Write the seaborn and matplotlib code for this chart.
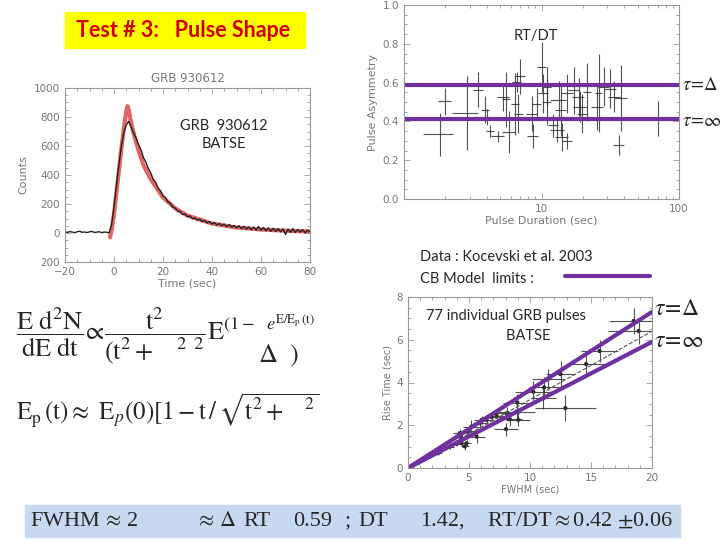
import numpy as np
import pandas as pd
import seaborn as sns
import matplotlib.pyplot as plt

# light curve GRB 930612 (1 s bins)
lc_time = list(range(-20, 81))
lc_counts = [8, 4, 10, 6, 2, 9, 12, 5, 7, 3, 8, 11, 4, 6, 9, 2, 7, 5, 1, 55,
             180, 330, 470, 600, 690, 745, 770, 730, 690, 655, 610, 575, 520, 490, 445, 415,
             370, 350, 310, 290, 255, 245, 215, 205, 178, 172, 150, 148, 128, 130, 112,
             118, 98, 104, 88, 95, 80, 86, 70, 78, 62, 72, 55, 66, 50, 61, 44, 58, 40,
             52, 35, 50, 30, 46, 28, 42, 22, 40, 20, 45, 18, 38, 15, 35, 12, 33, 10, 30,
             8, 28, -10, 26, 5, 30, 3, 24, 6, 22, 2, 20, 8]
model_time = [-1.6, -1, 0, 1, 2, 3, 4, 5, 5.5, 6, 7, 8, 10, 12, 15, 20, 25, 30, 40, 50, 60, 70, 80]
model_counts = [-30, 20, 130, 280, 430, 580, 720, 840, 875, 850, 760, 690, 570, 470, 370,
                245, 170, 120, 65, 38, 24, 16, 10]
lc_yticks = [-200, 0, 200, 400, 600, 800, 1000]
lc_yticklabels = ["200", "0", "200", "400", "600", "800", "1000"]

# pulse asymmetry vs pulse duration (Kocevski et al. 2003)
dur = [1.98, 1.82, 2.85, 3.46, 3.9, 4.0, 4.24, 4.8, 5.55, 5.77, 6.45, 6.64, 7.0, 6.8,
       8.7, 8.55, 9.2, 10.0, 10.3, 11.0, 10.9, 12.2, 13.0, 13.8, 14.1, 15.3, 13.3, 15.4,
       17.1, 18.6, 19.2, 19.8, 21.6, 25.5, 26.0, 28.3, 33.7, 31.7, 37.6, 36.5, 70.8, 5.28]
asym = [0.503, 0.334, 0.443, 0.564, 0.461, 0.423, 0.349, 0.323, 0.513, 0.345, 0.49,
        0.604, 0.633, 0.44, 0.325, 0.44, 0.49, 0.68, 0.544, 0.578, 0.5, 0.38, 0.354,
        0.457, 0.32, 0.30, 0.51, 0.545, 0.56, 0.526, 0.475, 0.44, 0.55, 0.475, 0.545,
        0.578, 0.526, 0.569, 0.52, 0.278, 0.417, 0.525]
dur_err = [0.2, 0.45, 0.6, 0.3, 0.25, 0.3, 0.3, 0.5, 0.4, 0.6, 0.4, 0.5, 0.6, 0.5,
           0.8, 0.8, 0.7, 0.8, 0.9, 0.8, 0.9, 1.0, 1.5, 1.2, 1.6, 1.3, 1.8, 1.5,
           1.6, 1.8, 2.2, 1.8, 1.5, 2.5, 1.5, 2.5, 3.5, 3.0, 4.0, 3.5, 6.0, 0.5]
asym_err = [0.07, 0.11, 0.19, 0.09, 0.07, 0.04, 0.03, 0.03, 0.14, 0.11, 0.16, 0.05,
            0.09, 0.1, 0.06, 0.09, 0.08, 0.13, 0.1, 0.1, 0.12, 0.06, 0.06, 0.13, 0.07,
            0.04, 0.1, 0.1, 0.12, 0.1, 0.08, 0.1, 0.15, 0.12, 0.2, 0.1, 0.08, 0.1,
            0.17, 0.05, 0.09, 0.07]
cb_asym = {"tau_delta": 0.59, "tau_inf": 0.41}

# rise time vs FWHM, 77 individual BATSE pulses
fwhm = [18.5, 18.9, 15.7, 14.6, 12.5, 11.45, 11.15, 10.27, 11.1, 12.9, 8.96, 8.9, 9.04,
        8.36, 8.03, 8.08, 7.26, 6.85, 6.44, 6.03, 5.62, 4.93, 4.8, 4.66, 4.39, 4.39,
        4.25, 3.98, 3.43, 3.02, 2.47, 1.78, 1.23, 0.82, 0.41, 5.2, 5.9]
rise = [6.88, 6.41, 5.47, 4.86, 4.39, 4.15, 3.77, 3.57, 3.26, 2.8, 3.06, 2.64, 2.25,
        2.28, 1.82, 2.56, 2.44, 2.38, 2.25, 2.25, 1.47, 1.71, 1.16, 1.01, 1.4, 1.16,
        1.63, 1.13, 1.0, 0.93, 0.7, 0.54, 0.39, 0.23, 0.11, 1.94, 2.1]
fwhm_err = [2.0, 2.5, 1.5, 1.5, 1.2, 1.3, 1.2, 1.5, 1.0, 2.5, 1.2, 1.5, 1.0, 1.0, 1.0,
            1.0, 0.8, 0.8, 0.6, 0.6, 0.7, 0.6, 0.4, 0.3, 0.3, 0.4, 0.6, 0.3, 0.3, 0.3,
            0.3, 0.2, 0.2, 0.2, 0.1, 0.7, 0.6]
rise_err = [0.6, 0.6, 0.5, 0.5, 0.6, 0.5, 0.5, 0.5, 0.5, 0.6, 0.4, 0.4, 0.3, 0.3, 0.3,
            0.3, 0.3, 0.2, 0.2, 0.2, 0.3, 0.2, 0.15, 0.15, 0.2, 0.2, 0.2, 0.1, 0.1, 0.1,
            0.1, 0.08, 0.06, 0.05, 0.04, 0.3, 0.2]
cb_fwhm = [0, 20]
cb_rise_delta = [0, 7.3]
cb_rise_inf = [0, 5.9]
fit_rise = [0, 6.4]

# pieces of the bottom summary line
band_parts = [r"FWHM$\,\approx\,$2", r"$\approx\,\Delta$", "RT", "0.59", ";", "DT",
              "1.42,", r"RT/DT$\approx$0.42 $\pm$0.06"]
band_x = [30, 195, 243, 293, 345, 358, 420, 487]

PURPLE = "#7030A0"
GREY = "#777777"

sns.set_theme(style="ticks")
plt.rcParams["font.family"] = ["DejaVu Sans"]
plt.rcParams["mathtext.fontset"] = "stix"

fig = plt.figure(figsize=(7.2, 5.4), dpi=100)
W, H = 720.0, 540.0


def fx(x):
    return x / W


def fy(y):
    return 1 - y / H


def old_axes(ax):
    # IDL style: thin grey frame, inward ticks, grey labels
    for s in ax.spines.values():
        s.set_color("#999999")
        s.set_linewidth(0.8)
    ax.tick_params(direction="in", which="both", colors="#999999", labelcolor=GREY,
                   labelsize=7.5, top=True, right=True, length=4, width=0.6)
    ax.tick_params(which="minor", length=2)
    ax.minorticks_on()


# title box
fig.add_artist(plt.Rectangle((fx(65), fy(48)), 240 / W, 36 / H, color="#FFFF00",
                             transform=fig.transFigure, zorder=0))
fig.text(fx(183), fy(31), "Test # 3:   Pulse Shape", ha="center", va="center",
         fontsize=15.5, fontweight="bold", color="#D00000", family=["Lato", "DejaVu Sans"])

# --- light curve
ax1 = fig.add_axes([fx(65), fy(262), (310 - 65) / W, (262 - 88) / H])
lc = pd.DataFrame({"t": lc_time, "c": lc_counts})
md = pd.DataFrame({"t": model_time, "c": model_counts})
sns.lineplot(data=md, x="t", y="c", ax=ax1, color="#E04848", lw=3, alpha=0.85)
sns.lineplot(data=lc, x="t", y="c", ax=ax1, color="#222222", lw=1.0)
ax1.set_xlim(-20, 80)
ax1.set_ylim(-200, 1000)
ax1.set_yticks(lc_yticks)
ax1.set_yticklabels(lc_yticklabels)
ax1.set_xticks([-20, 0, 20, 40, 60, 80])
ax1.set_xlabel("Time (sec)", fontsize=8, color=GREY, labelpad=1)
ax1.set_ylabel("Counts", fontsize=8, color=GREY, labelpad=4)
ax1.set_title("GRB 930612", fontsize=8.5, color=GREY, pad=4)
old_axes(ax1)
ax1.text(0.65, 0.73, "GRB  930612\nBATSE", transform=ax1.transAxes, ha="center",
         va="center", fontsize=10.5, family=["Lato", "DejaVu Sans"], linespacing=1.3)

# --- asymmetry vs duration
ax2 = fig.add_axes([fx(404), fy(199), (679 - 404) / W, (199 - 5) / H])
ax2.errorbar(dur, asym, xerr=dur_err, yerr=asym_err, fmt="none", ecolor="#333333",
             elinewidth=0.8, alpha=0.85)
for key in cb_asym:
    ax2.axhline(cb_asym[key], color=PURPLE, lw=3)
ax2.set_xscale("log")
ax2.set_xlim(1, 100)
ax2.set_ylim(0, 1.0)
ax2.set_yticks([0, 0.2, 0.4, 0.6, 0.8, 1.0])
ax2.set_yticklabels(["0.0", "0.2", "0.4", "0.6", "0.8", "1.0"])
ax2.set_xticks([10, 100])
ax2.set_xticklabels(["10", "100"])
ax2.set_xlabel("Pulse Duration (sec)", fontsize=8, color=GREY, labelpad=1)
ax2.set_ylabel("Pulse Asymmetry", fontsize=8, color=GREY, labelpad=3)
old_axes(ax2)
ax2.text(0.48, 0.84, "RT/DT", transform=ax2.transAxes, ha="center", va="center",
         fontsize=10.5, family=["Lato", "DejaVu Sans"])
fig.text(fx(682), fy(84), r"$\tau\!=\!\Delta$", fontsize=13.5, va="center", color="#222222")
fig.text(fx(682), fy(120), r"$\tau\!=\!\infty$", fontsize=13.5, va="center", color="#222222")

fig.text(fx(420), fy(257), "Data : Kocevski et al. 2003", fontsize=10.5, va="center",
         family=["Lato", "DejaVu Sans"])
fig.text(fx(420), fy(279), "CB Model  limits :", fontsize=10.5, va="center",
         family=["Lato", "DejaVu Sans"])
fig.add_artist(plt.Line2D([fx(565), fx(650)], [fy(276), fy(276)], color=PURPLE, lw=3))

# --- rise time vs FWHM
ax3 = fig.add_axes([fx(408), fy(468), (652 - 408) / W, (468 - 297) / H])
ax3.errorbar(fwhm, rise, xerr=fwhm_err, yerr=rise_err, fmt="none", ecolor="#333333",
             elinewidth=0.8, alpha=0.85)
sns.scatterplot(x=fwhm, y=rise, ax=ax3, color="#222222", s=9, edgecolor="none")
ax3.plot(cb_fwhm, fit_rise, color="#555555", lw=0.8, ls="--")
sns.lineplot(x=cb_fwhm, y=cb_rise_delta, ax=ax3, color=PURPLE, lw=3)
sns.lineplot(x=cb_fwhm, y=cb_rise_inf, ax=ax3, color=PURPLE, lw=3)
ax3.set_xlim(0, 20)
ax3.set_ylim(0, 8)
ax3.set_xticks([0, 5, 10, 15, 20])
ax3.set_yticks([0, 2, 4, 6, 8])
ax3.set_xlabel("FWHM (sec)", fontsize=7, color=GREY, labelpad=1)
ax3.set_ylabel("Rise Time (sec)", fontsize=7, color=GREY, labelpad=3)
old_axes(ax3)
ax3.text(0.4, 0.83, "77 individual GRB pulses\n            BATSE", transform=ax3.transAxes,
         ha="center", va="center", fontsize=10.5, family=["Lato", "DejaVu Sans"],
         linespacing=1.5)
fig.text(fx(654), fy(308), r"$\tau\!=\!\Delta$", fontsize=17, va="center", color="#222222")
fig.text(fx(654), fy(340), r"$\tau\!=\!\infty$", fontsize=17, va="center", color="#222222")

# --- equations
fig.text(fx(16), fy(336), r"$\dfrac{\mathrm{E\ d^2N}}{\mathrm{dE\ dt}}\!\propto\!"
         r"\dfrac{\mathrm{t^2}}{(\mathrm{t^2}+\quad^2\ ^2}\mathrm{E}^{(1-\ \ e^{\mathrm{E/E_p\,(t)}}}$",
         fontsize=19, va="center")
fig.text(fx(258), fy(356), r"$\Delta\ \ )$", fontsize=19, va="center")
fig.text(fx(16), fy(410), r"$\mathrm{E_p\,(t)}\approx\ \mathrm{E}_p\mathrm{(0)[1-t\,/\,\sqrt{t^2+\quad^2}}$",
         fontsize=18, va="center")

# --- bottom band
fig.add_artist(plt.Rectangle((fx(25), fy(537)), (680 - 25) / W, 32 / H, color="#C6D9F1",
                             transform=fig.transFigure, zorder=0))
for part, px in zip(band_parts, band_x):
    fig.text(fx(px), fy(521), part, fontsize=16, va="center",
             family=["Liberation Serif", "DejaVu Serif"])

fig.savefig("out.png", dpi=100)
